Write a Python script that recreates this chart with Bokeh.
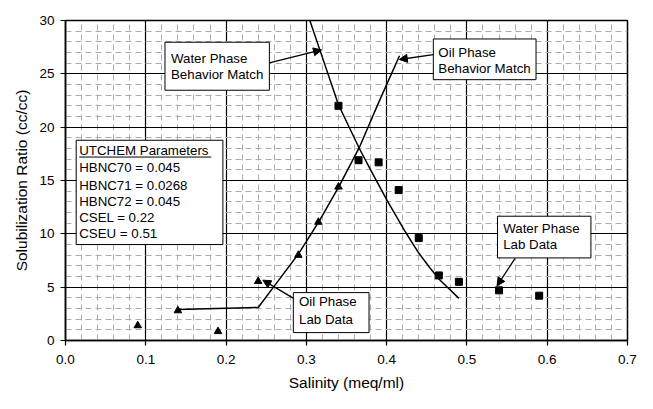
from bokeh.plotting import figure
from bokeh.models import (Range1d, FixedTicker, PrintfTickFormatter, BoxAnnotation,
                          Label, Arrow, NormalHead)
from bokeh.embed import file_html
from bokeh.resources import INLINE

# ---- data ----
oil_lab_x = [0.09, 0.14, 0.19, 0.24, 0.29, 0.315, 0.34]
oil_lab_y = [1.4, 2.8, 0.85, 5.55, 8.0, 11.1, 14.4]

water_lab_x = [0.34, 0.365, 0.39, 0.415, 0.44, 0.465, 0.49, 0.54, 0.59]
water_lab_y = [22.0, 16.9, 16.7, 14.1, 9.6, 6.1, 5.5, 4.7, 4.2]

oil_match_x = [0.14, 0.24, 0.26, 0.29, 0.316, 0.341, 0.366, 0.39, 0.416]
oil_match_y = [2.9, 3.1, 5.1, 8.1, 11.2, 14.5, 18.1, 22.3, 26.7]

water_match_x = [0.303, 0.317, 0.34, 0.366, 0.38, 0.40, 0.424, 0.44, 0.454, 0.466, 0.49]
water_match_y = [30.3, 27.2, 22.1, 18.0, 16.0, 13.2, 10.1, 8.2, 6.8, 5.7, 3.95]

x_ticks = [0.0, 0.1, 0.2, 0.3, 0.4, 0.5, 0.6, 0.7]
y_ticks = [0, 5, 10, 15, 20, 25, 30]
x_minor = [round(i * 0.02, 2) for i in range(36)]
y_minor = list(range(31))

params_title = "UTCHEM Parameters"
params_lines = ["HBNC70 = 0.045", "HBNC71 = 0.0268", "HBNC72 = 0.045",
                "CSEL = 0.22", "CSEU = 0.51"]

FONT = "Liberation Sans"

W, H = 637, 393
BL, BR, BT, BB = 65, 10, 20, 53
FW, FH = W - BL - BR, H - BT - BB
SX = FW / 0.7      # px per x unit
SY = FH / 30.0     # px per y unit

p = figure(width=W, height=H, output_backend="svg", toolbar_location=None,
           x_range=Range1d(0, 0.7), y_range=Range1d(0, 30),
           min_border_left=BL, min_border_right=BR, min_border_top=BT,
           min_border_bottom=BB)
p.background_fill_color = "white"
p.border_fill_color = "white"
p.outline_line_color = "black"
p.outline_line_width = 1.5

p.xaxis.ticker = FixedTicker(ticks=x_ticks, minor_ticks=x_minor)
p.yaxis.ticker = FixedTicker(ticks=y_ticks, minor_ticks=y_minor)
p.xaxis.formatter = PrintfTickFormatter(format="%.1f")
p.xaxis.axis_label = "Salinity (meq/ml)"
p.yaxis.axis_label = "Solubilization Ratio (cc/cc)"
for ax in (p.xaxis[0], p.yaxis[0]):
    ax.axis_line_color = "black"
    ax.axis_line_width = 1.5
    ax.major_tick_line_color = "black"
    ax.major_tick_line_width = 1.2
    ax.major_tick_out = 5
    ax.major_tick_in = 0
    ax.minor_tick_line_color = None
    ax.major_label_text_font = FONT
    ax.major_label_text_font_size = "13.5px"
    ax.major_label_text_color = "black"
    ax.axis_label_text_font = FONT
    ax.axis_label_text_font_size = "15.5px"
    ax.axis_label_text_font_style = "normal"
    ax.axis_label_text_color = "black"
p.xaxis.major_label_standoff = 9
p.xaxis.axis_label_standoff = 7
p.yaxis.major_label_standoff = 6
p.yaxis.axis_label_standoff = 6

for g in (p.xgrid[0], p.ygrid[0]):
    g.grid_line_color = "black"
    g.grid_line_width = 1.2
    g.minor_grid_line_color = "#ababab"
    g.minor_grid_line_width = 1
    g.minor_grid_line_dash = "6 4"

# curves
p.line(water_match_x, water_match_y, line_color="black", line_width=1.5)
p.line(oil_match_x, oil_match_y, line_color="black", line_width=1.5)
# lab data
p.scatter(oil_lab_x, oil_lab_y, marker="triangle", size=7.5, fill_color="black", line_color="black")
p.scatter(water_lab_x, water_lab_y, marker="square", size=7, fill_color="black", line_color="black")


# ---- annotation helpers (anchor from reference pixel, sizes in pixels) ----
def rx(px):
    return (px - 65) / 825.7


def ry(py):
    return (354 - py) / 11.133


def note(l, t, w, h, pad, centers, lines, tail=None, head=None):
    x0, y0 = rx(l), ry(t)
    if tail is not None:
        p.add_layout(Arrow(end=NormalHead(size=8, fill_color="black", line_color="black"),
                           x_start=x0 + tail[0] / SX, y_start=y0 - tail[1] / SY,
                           x_end=rx(head[0]), y_end=ry(head[1]),
                           line_color="black", line_width=1.3))
    p.add_layout(BoxAnnotation(left=x0, right=x0 + w / SX, top=y0, bottom=y0 - h / SY,
                               fill_color="white", fill_alpha=1, line_color="black",
                               line_width=1, line_alpha=1))
    for c, s in zip(centers, lines):
        p.add_layout(Label(x=x0 + pad / SX, y=y0 - c / SY, text=s, text_baseline="middle",
                           text_align="left", text_font=FONT, text_font_size="13.3px",
                           text_color="black"))
    return x0, y0


note(167.3, 42.7, 104.4, 48.0, 6.0, [15.8, 32.3], ["Water Phase", "Behavior Match"],
     tail=(104.4, 20.6), head=(328.3, 50.7))
note(443.3, 39.3, 102.7, 40.7, 5.0, [13.4, 29.7], ["Oil Phase", "Behavior Match"],
     tail=(0.0, 15.7), head=(408.3, 60.7))
note(299.3, 304.0, 75.7, 40.0, 5.7, [9.3, 26.7], ["Oil Phase", "Lab Data"],
     tail=(0.7, 6.0), head=(268.0, 291.0))
note(509.3, 224.3, 93.4, 41.7, 5.7, [12.4, 28.4], ["Water Phase", "Lab Data"],
     tail=(17.4, 42.4), head=(508.8, 297.0))

ux, uy = note(76.0, 145.0, 146.7, 104.3, 3.0, [10.0, 27.7, 45.0, 61.0, 77.7, 93.7],
              [params_title] + params_lines)
# underline of the parameter heading
p.add_layout(Arrow(end=None, x_start=ux + 3.0 / SX, y_start=uy - 16.8 / SY,
                   x_end=ux + 135.0 / SX, y_end=uy - 16.8 / SY,
                   line_color="black", line_width=1))

open("out.html", "w").write(file_html(p, INLINE))
